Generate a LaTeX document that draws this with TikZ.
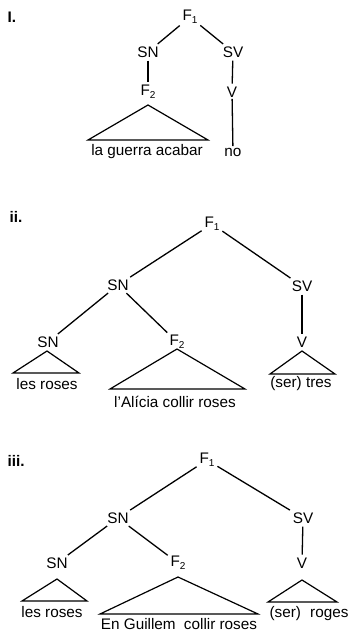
\documentclass[tikz,border=0pt]{standalone}
\usepackage{fontspec}
\setmainfont{Liberation Sans}
\newcommand\mysubs[1]{\raisebox{-0.35ex}{\fontsize{10}{10}\selectfont #1}}
\begin{document}
\begin{tikzpicture}[x=1pt,y=-1pt,
  lab/.style={inner sep=1.5pt, font=\fontsize{15.3}{15.3}\selectfont},
  num/.style={inner sep=1.5pt, anchor=west, font=\fontsize{15.3}{15.3}\selectfont\bfseries},
  edge/.style={line width=1.3pt, shorten >=1.5pt, shorten <=1.5pt},
  tri/.style={line width=1.2pt, line join=miter}]
\useasboundingbox (0,0) rectangle (352,633);

% ---------- tree i ----------
\node[num] (ni) at (6,17) {I.};
\node[lab] (a1) at (190,17) {F\mysubs{1}};
\node[lab] (a2) at (148,52) {SN};
\node[lab] (a3) at (233,52) {SV};
\node[lab] (a4) at (148,92) {F\mysubs{2}};
\node[lab] (a5) at (232,92) {V};
\node[lab] (a6) at (147,152) {la guerra acabar};
\node[lab] (a7) at (233,152) {no};
\draw[edge] (a1) -- (a2);
\draw[edge] (a1) -- (a3);
\draw[edge] (a2) -- (a4);
\draw[edge] (a3) -- (a5);
\draw[line width=1.3pt] (a5) -- (a7);
\coordinate (a4t) at (148,105);
\coordinate (a4l) at (88,140);
\coordinate (a4r) at (208,140);
\draw[tri] (a4t) -- (a4l) -- (a4r) -- cycle;

% ---------- tree ii ----------
\node[num] (nii) at (8,217) {ii.};
\node[lab] (b1) at (212,224) {F\mysubs{1}};
\node[lab] (b2) at (118,285) {SN};
\node[lab] (b3) at (302,286) {SV};
\node[lab] (b4) at (48,342) {SN};
\node[lab] (b5) at (177,342) {F\mysubs{2}};
\node[lab] (b6) at (302,342) {V};
\node[lab] (b7) at (47,384) {les roses};
\node[lab] (b8) at (175,402) {l\symbol{39}Alícia collir roses};
\node[lab] (b9) at (301,384) {(ser) tres};
\draw[edge] (b1) -- (b2);
\draw[edge] (b1) -- (b3);
\draw[edge] (b2) -- (b4);
\draw[edge] (b2) -- (b5);
\draw[edge] (b3) -- (b6);
\coordinate (b4t) at (47,351);
\coordinate (b4l) at (13,373);
\coordinate (b4r) at (79,373);
\draw[tri] (b4t) -- (b4l) -- (b4r) -- cycle;
\coordinate (b5t) at (177,349);
\coordinate (b5l) at (110,389);
\coordinate (b5r) at (245,389);
\draw[tri] (b5t) -- (b5l) -- (b5r) -- cycle;
\coordinate (b6t) at (302,351);
\coordinate (b6l) at (270,374);
\coordinate (b6r) at (335,374);
\draw[tri] (b6t) -- (b6l) -- (b6r) -- cycle;

% ---------- tree iii ----------
\node[num] (niii) at (6,461) {iii.};
\node[lab] (c1) at (207,460) {F\mysubs{1}};
\node[lab] (c2) at (118,518) {SN};
\node[lab] (c3) at (303,518) {SV};
\node[lab] (c4) at (57,563) {SN};
\node[lab] (c5) at (178,563) {F\mysubs{2}};
\node[lab] (c6) at (302,563) {V};
\node[lab] (c7) at (52,612) {les roses};
\node[lab, inner sep=0.5pt] (c8) at (179,624) {En Guillem\hspace{4pt} collir roses};
\node[lab] (c9) at (309,614) {(ser)\hspace{5pt} roges};
\draw[edge] (c1) -- (c2);
\draw[edge] (c1) -- (c3);
\draw[edge] (c2) -- (c4);
\draw[edge] (c2) -- (c5);
\draw[edge] (c3) -- (c6);
\coordinate (c4t) at (57,579);
\coordinate (c4l) at (22,601);
\coordinate (c4r) at (87,601);
\draw[tri] (c4t) -- (c4l) -- (c4r) -- cycle;
\coordinate (c5t) at (178,577);
\coordinate (c5l) at (100,614);
\coordinate (c5r) at (258,614);
\draw[tri] (c5t) -- (c5l) -- (c5r) -- cycle;
\coordinate (c6t) at (302,580);
\coordinate (c6l) at (268,602);
\coordinate (c6r) at (337,602);
\draw[tri] (c6t) -- (c6l) -- (c6r) -- cycle;
\end{tikzpicture}
\end{document}
